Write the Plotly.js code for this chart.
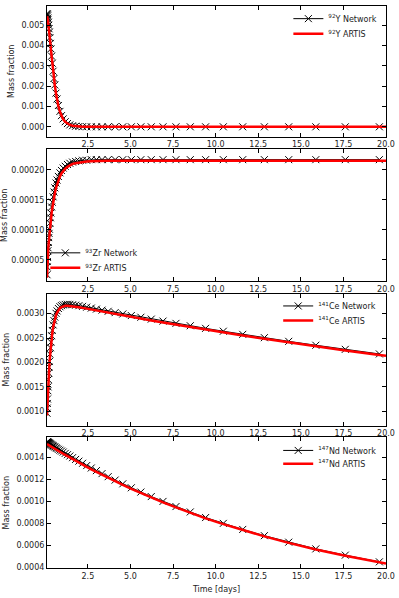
<!DOCTYPE html>
<html>
<head>
<meta charset="utf-8">
<script src="https://cdn.plot.ly/plotly-3.0.1.min.js"></script>
<style>
  html, body { margin: 0; padding: 0; background: #fff; }
  #myPlot { width: 399px; height: 598px; }
</style>
</head>
<body>
<div id="myPlot"></div>
<script>
// time grid of the network output [days]
const networkTime = [0.10, 0.11, 0.12, 0.13, 0.15, 0.16, 0.18, 0.20, 0.22, 0.24,
  0.27, 0.30, 0.33, 0.37, 0.41, 0.46, 0.51, 0.56, 0.63, 0.69,
  0.77, 0.86, 0.95, 1.05, 1.17, 1.30, 1.44, 1.60, 1.78, 1.97,
  2.19, 2.43, 2.70, 3.00, 3.33, 3.69, 4.10, 4.55, 5.05, 5.61,
  6.22, 6.91, 7.67, 8.51, 9.41, 10.45, 11.59, 12.86, 14.29, 15.88,
  17.61, 19.61];
// ARTIS output times [days]
const artisTime = [0.10, 0.11, 0.12, 0.13, 0.15, 0.16, 0.18, 0.20, 0.22, 0.24,
  0.27, 0.30, 0.33, 0.37, 0.41, 0.46, 0.51, 0.56, 0.63, 0.69,
  0.77, 0.86, 0.95, 1.05, 1.17, 1.30, 1.44, 1.60, 1.78, 1.97,
  2.19, 2.43, 2.70, 3.00, 3.33, 3.69, 4.10, 4.55, 5.05, 5.61,
  6.22, 6.91, 7.67, 8.51, 9.41, 10.45, 11.59, 12.86, 14.29, 15.88,
  17.61, 19.61, 20.00];

// 92Y
const y92Network = [0.00558, 0.00555, 0.00551, 0.00546, 0.00536, 0.00529, 0.00515, 0.00500, 0.00483, 0.00466,
  0.00439, 0.00411, 0.00384, 0.00348, 0.00313, 0.00274, 0.00238, 0.00206, 0.00166, 0.00137,
  0.00105, 0.00076, 0.00055, 0.00039, 0.00025, 0.00016, 0.000095, 0.000053, 0.000028, 0.000014,
  0.000007, 0.000003, 0.0000013, 0.0000005, 0.0000002, 0.0000001, 0, 0, 0, 0,
  0, 0, 0, 0, 0, 0, 0, 0, 0, 0,
  0, 0];
const y92Artis = [0.00545, 0.00543, 0.00540, 0.00536, 0.00527, 0.00521, 0.00508, 0.00493, 0.00477, 0.00460,
  0.00434, 0.00407, 0.00380, 0.00344, 0.00310, 0.00271, 0.00235, 0.00203, 0.00163, 0.00134,
  0.00102, 0.00074, 0.00053, 0.00037, 0.00024, 0.00015, 0.000090, 0.000050, 0.000026, 0.000013,
  0.000006, 0.000003, 0.0000012, 0.0000005, 0.0000002, 0.0000001, 0, 0, 0, 0,
  0, 0, 0, 0, 0, 0, 0, 0, 0, 0,
  0, 0, 0];

// 93Zr
const zr93Network = [0.000025, 0.000038, 0.000047, 0.000054, 0.000065, 0.000070, 0.000079, 0.000087, 0.000094, 0.000101,
  0.000111, 0.000120, 0.000128, 0.000138, 0.000146, 0.000155, 0.000163, 0.000170, 0.000178, 0.000183,
  0.000189, 0.000195, 0.000199, 0.000203, 0.000206, 0.000209, 0.000211, 0.000213, 0.000214, 0.000215,
  0.000216, 0.000216, 0.000217, 0.000217, 0.000217, 0.000217, 0.000217, 0.000217, 0.000217, 0.000217,
  0.000217, 0.000217, 0.000217, 0.000217, 0.000217, 0.000217, 0.000217, 0.000217, 0.000217, 0.000217,
  0.000217, 0.000217];
const zr93Artis = [0.000020, 0.000032, 0.000041, 0.000048, 0.000058, 0.000063, 0.000071, 0.000078, 0.000085, 0.000092,
  0.000101, 0.000110, 0.000118, 0.000128, 0.000136, 0.000146, 0.000154, 0.000161, 0.000170, 0.000176,
  0.000183, 0.000189, 0.000194, 0.000198, 0.000202, 0.000205, 0.000208, 0.000210, 0.000211, 0.000212,
  0.000213, 0.000214, 0.0002145, 0.000215, 0.000215, 0.000215, 0.000215, 0.000215, 0.000215, 0.000215,
  0.000215, 0.000215, 0.000215, 0.000215, 0.000215, 0.000215, 0.000215, 0.000215, 0.000215, 0.000215,
  0.000215, 0.000215, 0.000215];

// 141Ce
const ce141Network = [0.000960, 0.001065, 0.001160, 0.001252, 0.001420, 0.001500, 0.001648, 0.001782, 0.001905, 0.002018,
  0.002170, 0.002300, 0.002415, 0.002547, 0.002655, 0.002768, 0.002856, 0.002928, 0.003006, 0.003055,
  0.003104, 0.003140, 0.003163, 0.003178, 0.003188, 0.003191, 0.003189, 0.003181, 0.003172, 0.003162,
  0.003148, 0.003132, 0.003113, 0.003092, 0.003071, 0.003047, 0.003020, 0.002992, 0.002960, 0.002925,
  0.002887, 0.002846, 0.002800, 0.002751, 0.002698, 0.002639, 0.002575, 0.002507, 0.002432, 0.002352,
  0.002268, 0.002174];
const ce141Artis = [0.000913, 0.001014, 0.001102, 0.001191, 0.001357, 0.001435, 0.001579, 0.001712, 0.001834, 0.001948,
  0.002101, 0.002234, 0.002352, 0.002488, 0.002600, 0.002719, 0.002811, 0.002887, 0.002969, 0.003021,
  0.003072, 0.003110, 0.003134, 0.003149, 0.003159, 0.003161, 0.003158, 0.003150, 0.003141, 0.003131,
  0.003117, 0.003101, 0.003083, 0.003062, 0.003041, 0.003018, 0.002991, 0.002963, 0.002931, 0.002897,
  0.002859, 0.002818, 0.002773, 0.002724, 0.002672, 0.002613, 0.002550, 0.002483, 0.002408, 0.002329,
  0.002246, 0.002153, 0.002135];

// 147Nd
const nd147Network = [0.001540, 0.001539, 0.001538, 0.001537, 0.001535, 0.001534, 0.001532, 0.001530, 0.001528, 0.001526,
  0.001523, 0.001520, 0.001516, 0.001512, 0.001508, 0.001503, 0.001498, 0.001493, 0.001486, 0.001480,
  0.001472, 0.001464, 0.001456, 0.001447, 0.001435, 0.001423, 0.001411, 0.001396, 0.001380, 0.001364,
  0.001345, 0.001324, 0.001302, 0.001278, 0.001251, 0.001223, 0.001192, 0.001158, 0.001122, 0.001083,
  0.001042, 0.000998, 0.000951, 0.000902, 0.000851, 0.000798, 0.000743, 0.000686, 0.000627, 0.000566,
  0.000509, 0.000448];
const nd147Artis = [0.001520, 0.001519, 0.001518, 0.001517, 0.001515, 0.001514, 0.001512, 0.001510, 0.001509, 0.001507,
  0.001504, 0.001501, 0.001498, 0.001494, 0.001491, 0.001486, 0.001481, 0.001477, 0.001470, 0.001465,
  0.001457, 0.001449, 0.001441, 0.001432, 0.001421, 0.001409, 0.001397, 0.001383, 0.001367, 0.001351,
  0.001332, 0.001312, 0.001290, 0.001266, 0.001240, 0.001212, 0.001181, 0.001148, 0.001112, 0.001073,
  0.001033, 0.000989, 0.000943, 0.000894, 0.000844, 0.000791, 0.000736, 0.000680, 0.000621, 0.000561,
  0.000504, 0.000444, 0.000433];

const isotopes = ["<sup>92</sup>Y", "<sup>93</sup>Zr", "<sup>141</sup>Ce", "<sup>147</sup>Nd"];
const networkValues = [y92Network, zr93Network, ce141Network, nd147Network];
const artisValues = [y92Artis, zr93Artis, ce141Artis, nd147Artis];
const yTicks = [
  [0.000, 0.001, 0.002, 0.003, 0.004, 0.005],
  [0.00005, 0.00010, 0.00015, 0.00020],
  [0.0010, 0.0015, 0.0020, 0.0025, 0.0030],
  [0.0004, 0.0006, 0.0008, 0.0010, 0.0012, 0.0014],
];
const xTicks = [2.5, 5.0, 7.5, 10.0, 12.5, 15.0, 17.5, 20.0];

const yRanges = [[-0.00048, 0.00595], [0.0000145, 0.000234], [0.000708, 0.003402], [0.000392, 0.00158]];
const yFormats = [".3f", ".5f", ".4f", ".4f"];
const domains = [[0.7677, 1.0], [0.5106, 0.7447], [0.2535, 0.4876], [0.0, 0.2323]];
// legend rows: [x, y of network row, y of ARTIS row] in paper units
const legendPos = [
  [0.712, 0.9775, 0.9505],
  [-0.005, 0.5608, 0.5342],
  [0.682, 0.4663, 0.4405],
  [0.682, 0.2092, 0.1856],
];

const font = { family: "DejaVu Sans, sans-serif", size: 8, color: "#222" };

const data = [];
const layout = {
  width: 399,
  height: 598,
  margin: { l: 47, r: 13, t: 4, b: 30 },
  paper_bgcolor: "#fff",
  plot_bgcolor: "#fff",
  font: font,
  showlegend: true,
};

function legendBox(x, y) {
  return {
    x: x, y: y, xanchor: "left", yanchor: "middle",
    bgcolor: "rgba(0,0,0,0)",
    borderwidth: 0,
    font: font,
    itemwidth: 30,
  };
}

for (let i = 0; i < 4; i++) {
  const n = i === 0 ? "" : String(i + 1);
  const netLegend = "legend" + n;
  const artLegend = "legend" + (i + 5);

  data.push({
    x: networkTime,
    y: networkValues[i],
    xaxis: "x" + n,
    yaxis: "y" + n,
    type: "scatter",
    mode: "lines+markers",
    name: isotopes[i] + " Network",
    legend: netLegend,
    showlegend: true,
    line: { color: "#000", width: 1 },
    marker: { symbol: "x-thin", size: 7, line: { color: "#000", width: 1 } },
  });
  data.push({
    x: artisTime,
    y: artisValues[i],
    xaxis: "x" + n,
    yaxis: "y" + n,
    type: "scatter",
    mode: "lines",
    name: isotopes[i] + " ARTIS",
    legend: artLegend,
    showlegend: true,
    line: { color: "#ff0000", width: 2.5 },
  });

  layout["xaxis" + n] = {
    anchor: "y" + n,
    domain: [0, 1],
    range: [0.1, 20],
    tickvals: xTicks,
    tickformat: ".1f",
    ticks: "inside",
    ticklen: 4,
    tickcolor: "#000",
    showline: true,
    linecolor: "#000",
    linewidth: 1,
    mirror: "ticks",
    showgrid: false,
    zeroline: false,
    tickfont: font,
  };
  layout["yaxis" + n] = {
    anchor: "x" + n,
    domain: domains[i],
    range: yRanges[i],
    tickvals: yTicks[i],
    tickformat: yFormats[i],
    ticks: "inside",
    ticklen: 4,
    tickcolor: "#000",
    showline: true,
    linecolor: "#000",
    linewidth: 1,
    mirror: "ticks",
    showgrid: false,
    zeroline: false,
    tickfont: font,
    title: { text: "Mass fraction", font: font, standoff: 5 },
  };
  layout[netLegend] = legendBox(legendPos[i][0], legendPos[i][1]);
  layout[artLegend] = legendBox(legendPos[i][0], legendPos[i][2]);
}

layout.xaxis4.title = { text: "Time [days]", font: font, standoff: 6 };

Plotly.newPlot("myPlot", data, layout, { staticPlot: true });
</script>
</body>
</html>
